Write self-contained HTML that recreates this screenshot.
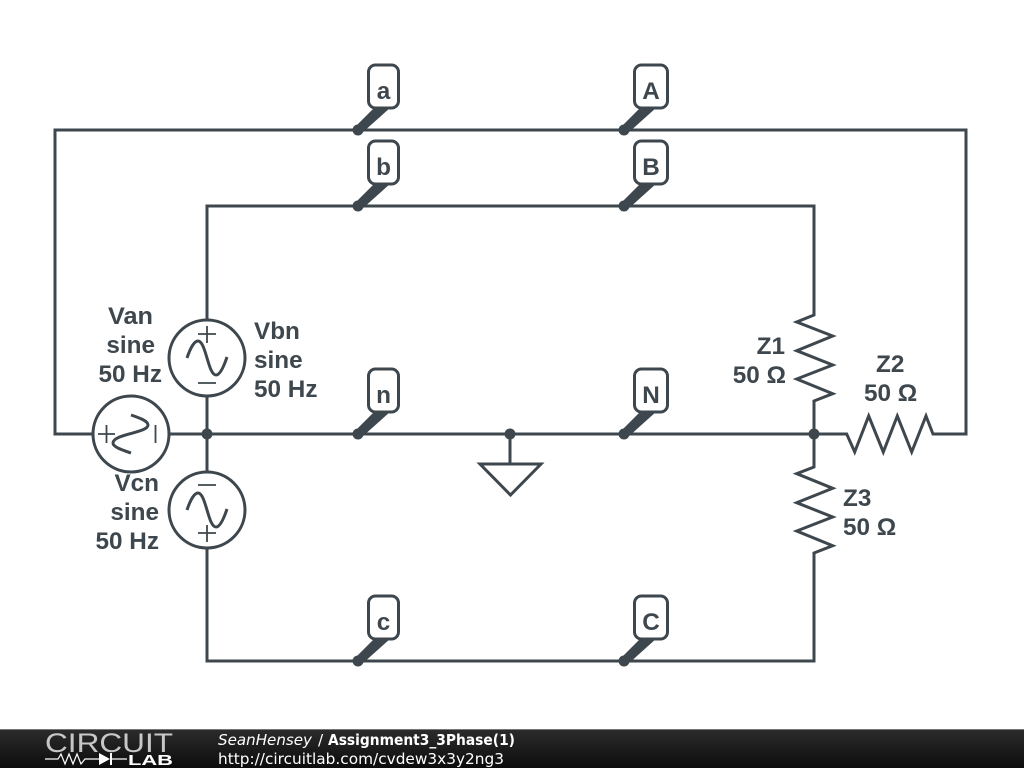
<!DOCTYPE html>
<html><head><meta charset="utf-8"><style>
html,body{margin:0;padding:0;background:#fff;width:1024px;height:768px;overflow:hidden}
svg{display:block}
.l{font-family:"Liberation Sans",sans-serif;font-weight:bold;font-size:24.3px;fill:#3d474d}
.p{font-family:"Liberation Sans",sans-serif;font-weight:bold;font-size:24.3px;fill:#3d474d;text-anchor:middle}
.w{fill:none;stroke:#3d474d;stroke-width:3;stroke-linejoin:miter}
.t{fill:none;stroke:#3d474d;stroke-width:1.8}
.f{font-family:"DejaVu Sans",sans-serif;font-size:15.3px;fill:#fff}
</style></head><body>
<svg width="1024" height="768" viewBox="0 0 1024 768" xmlns="http://www.w3.org/2000/svg">
<defs>
<linearGradient id="g" x1="0" y1="0" x2="0" y2="1"><stop offset="0" stop-color="#2c2c2c"/><stop offset="1" stop-color="#0c0c0c"/></linearGradient>
<g id="pin"><circle r="5.5" fill="#3d474d"/><path d="M-2.500 -3.500L17 -23H33L4 3Z" fill="#3d474d"/></g>
</defs>
<rect width="1024" height="768" fill="#fff"/>
<!-- wires -->
<path class="w" d="M92 434H55V130H966V434H933L926 416L911.7 452L897.3 416L883.3 452L868.7 416L854.7 452L846.7 434H814"/>
<path class="w" d="M207 320V206H814V315L796.7 322L832.7 336L796.7 350.7L832.7 365L796.7 379L832.7 393.7L814 401V467L796.7 473.7L832.7 488.3L796.7 502.7L832.7 517L796.7 531L832.7 545.7L814 553V661H207V548"/>
<path class="w" d="M170 434H814M207 396V472"/>
<!-- ground -->
<path class="w" d="M510 434V464M480 464H541L510.5 495Z"/>
<!-- sources -->
<g class="w">
<circle cx="207" cy="358" r="38" fill="#fff"/>
<circle cx="131" cy="434" r="38" fill="#fff"/>
<circle cx="207" cy="510" r="38" fill="#fff"/>
<path d="M187 358C190 349 194 341 198 341C206 341 208 375 216 375C220 375 224 366 227 357"/>
<path d="M187 510C190 501 194 493 198 493C206 493 208 527 216 527C220 527 224 518 227 509"/>
<path d="M131 415C140 418 148 421 148 425C148 433 113 434 113 443C113 447 122 450 131 453"/>
</g>
<g class="t">
<path d="M198 334H216M207 326V343M198 383H216"/>
<path d="M198 485H216M198 533H216M207 525V542"/>
<path d="M98 434H115M106.500 425V443M155.500 425V443"/>
</g>
<!-- dots -->
<g fill="#3d474d">
<circle cx="207" cy="434" r="5.500"/><circle cx="510" cy="434" r="5.500"/><circle cx="814" cy="434" r="5.500"/>
</g>
<!-- pins -->
<g transform="translate(358,130)"><use href="#pin"/><rect x="10.500" y="-65" width="30" height="43" rx="7" fill="#fff" stroke="#3d474d" stroke-width="3"/><text class="p" x="25.500" y="-31">a</text></g>
<g transform="translate(624,130)"><use href="#pin"/><rect x="10.500" y="-65" width="33" height="43" rx="7" fill="#fff" stroke="#3d474d" stroke-width="3"/><text class="p" x="27" y="-31">A</text></g>
<g transform="translate(358,206)"><use href="#pin"/><rect x="10.500" y="-65" width="30" height="43" rx="7" fill="#fff" stroke="#3d474d" stroke-width="3"/><text class="p" x="25.500" y="-31">b</text></g>
<g transform="translate(624,206)"><use href="#pin"/><rect x="10.500" y="-65" width="33" height="43" rx="7" fill="#fff" stroke="#3d474d" stroke-width="3"/><text class="p" x="27" y="-31">B</text></g>
<g transform="translate(358,434)"><use href="#pin"/><rect x="10.500" y="-65" width="30" height="43" rx="7" fill="#fff" stroke="#3d474d" stroke-width="3"/><text class="p" x="25.500" y="-31">n</text></g>
<g transform="translate(624,434)"><use href="#pin"/><rect x="10.500" y="-65" width="33" height="43" rx="7" fill="#fff" stroke="#3d474d" stroke-width="3"/><text class="p" x="27" y="-31">N</text></g>
<g transform="translate(358,661)"><use href="#pin"/><rect x="10.500" y="-65" width="30" height="43" rx="7" fill="#fff" stroke="#3d474d" stroke-width="3"/><text class="p" x="25.500" y="-31">c</text></g>
<g transform="translate(624,661)"><use href="#pin"/><rect x="10.500" y="-65" width="33" height="43" rx="7" fill="#fff" stroke="#3d474d" stroke-width="3"/><text class="p" x="27" y="-31">C</text></g>
<!-- labels -->
<g class="l" text-anchor="end">
<text x="153" y="324" textLength="45" lengthAdjust="spacingAndGlyphs">Van</text><text x="155" y="353">sine</text><text x="162" y="382">50 Hz</text>
<text x="159" y="491">Vcn</text><text x="159" y="520">sine</text><text x="159" y="549">50 Hz</text>
<text x="785" y="354">Z1</text><text x="786" y="383">50 Ω</text>
</g>
<g class="l">
<text x="254" y="339">Vbn</text><text x="254" y="368">sine</text><text x="254" y="397">50 Hz</text>
<text x="876" y="372">Z2</text><text x="864" y="401">50 Ω</text>
<text x="843" y="506">Z3</text><text x="843" y="535">50 Ω</text>
</g>
<!-- footer -->
<rect x="0" y="729" width="1024" height="39" fill="url(#g)"/>
<rect x="0" y="729" width="1024" height="1" fill="#777"/>
<text x="45" y="752" font-family="Liberation Sans,sans-serif" font-size="26.500" fill="#fff" textLength="128" lengthAdjust="spacingAndGlyphs" opacity=".75">CIRCUIT</text>
<path d="M45 759H58L61 754L65 764L69 754L73 764L77 754L81 764L85 759H99M111 759H127" stroke="#fff" stroke-width="1.200" fill="none"/>
<path d="M99 753L110 759L99 765Z" fill="#fff"/><path d="M111 753V765" stroke="#fff" stroke-width="2"/>
<text x="128" y="765" font-family="Liberation Sans,sans-serif" font-size="15" font-weight="bold" fill="#fff" textLength="45" lengthAdjust="spacingAndGlyphs">LAB</text>
<text class="f" x="218" y="745" font-style="italic" textLength="94" lengthAdjust="spacingAndGlyphs">SeanHensey</text>
<text class="f" x="318" y="745">/</text>
<text class="f" x="328" y="745" font-weight="bold" textLength="187" lengthAdjust="spacingAndGlyphs">Assignment3_3Phase(1)</text>
<text class="f" x="218" y="764" textLength="286" lengthAdjust="spacingAndGlyphs">http://circuitlab.com/cvdew3x3y2ng3</text>
</svg>
</body></html>
